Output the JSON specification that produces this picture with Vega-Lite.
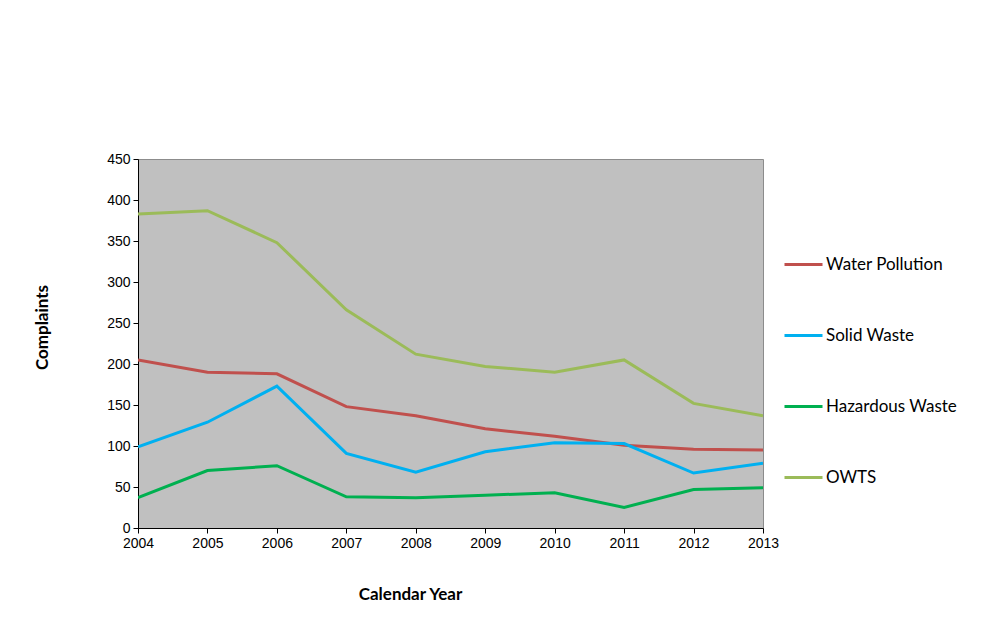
{
  "$schema": "https://vega.github.io/schema/vega-lite/v6.json",
  "width": 625,
  "height": 369,
  "autosize": {"type": "none"},
  "padding": {"left": 138, "top": 159, "right": 230, "bottom": 109},
  "background": "white",
  "data": {
    "values": [
      {"year": 2004, "series": "Water Pollution", "value": 205},
      {"year": 2005, "series": "Water Pollution", "value": 190},
      {"year": 2006, "series": "Water Pollution", "value": 188},
      {"year": 2007, "series": "Water Pollution", "value": 148},
      {"year": 2008, "series": "Water Pollution", "value": 137},
      {"year": 2009, "series": "Water Pollution", "value": 121},
      {"year": 2010, "series": "Water Pollution", "value": 112},
      {"year": 2011, "series": "Water Pollution", "value": 101},
      {"year": 2012, "series": "Water Pollution", "value": 96},
      {"year": 2013, "series": "Water Pollution", "value": 95},
      {"year": 2004, "series": "Solid Waste", "value": 99},
      {"year": 2005, "series": "Solid Waste", "value": 129},
      {"year": 2006, "series": "Solid Waste", "value": 173},
      {"year": 2007, "series": "Solid Waste", "value": 91},
      {"year": 2008, "series": "Solid Waste", "value": 68},
      {"year": 2009, "series": "Solid Waste", "value": 93},
      {"year": 2010, "series": "Solid Waste", "value": 104},
      {"year": 2011, "series": "Solid Waste", "value": 103},
      {"year": 2012, "series": "Solid Waste", "value": 67},
      {"year": 2013, "series": "Solid Waste", "value": 79},
      {"year": 2004, "series": "Hazardous Waste", "value": 37},
      {"year": 2005, "series": "Hazardous Waste", "value": 70},
      {"year": 2006, "series": "Hazardous Waste", "value": 76},
      {"year": 2007, "series": "Hazardous Waste", "value": 38},
      {"year": 2008, "series": "Hazardous Waste", "value": 37},
      {"year": 2009, "series": "Hazardous Waste", "value": 40},
      {"year": 2010, "series": "Hazardous Waste", "value": 43},
      {"year": 2011, "series": "Hazardous Waste", "value": 25},
      {"year": 2012, "series": "Hazardous Waste", "value": 47},
      {"year": 2013, "series": "Hazardous Waste", "value": 49},
      {"year": 2004, "series": "OWTS", "value": 383},
      {"year": 2005, "series": "OWTS", "value": 387},
      {"year": 2006, "series": "OWTS", "value": 348},
      {"year": 2007, "series": "OWTS", "value": 266},
      {"year": 2008, "series": "OWTS", "value": 212},
      {"year": 2009, "series": "OWTS", "value": 197},
      {"year": 2010, "series": "OWTS", "value": 190},
      {"year": 2011, "series": "OWTS", "value": 205},
      {"year": 2012, "series": "OWTS", "value": 152},
      {"year": 2013, "series": "OWTS", "value": 137}
    ]
  },
  "mark": {"type": "line", "strokeWidth": 3, "clip": true},
  "encoding": {
    "x": {
      "field": "year",
      "type": "quantitative",
      "scale": {"domain": [2004, 2013], "nice": false, "zero": false},
      "axis": {
        "values": [2004, 2005, 2006, 2007, 2008, 2009, 2010, 2011, 2012, 2013],
        "format": "d",
        "grid": false,
        "labelFlush": false,
        "title": "Calendar Year",
        "titleX": 272,
        "titleY": 66,
        "titleBaseline": "middle"
      }
    },
    "y": {
      "field": "value",
      "type": "quantitative",
      "scale": {"domain": [0, 450], "nice": false},
      "axis": {
        "values": [0, 50, 100, 150, 200, 250, 300, 350, 400, 450],
        "grid": false,
        "labelFlush": false,
        "title": "Complaints",
        "titleX": -96,
        "titleY": 168,
        "titleBaseline": "middle",
        "titleAlign": "center",
        "titleAngle": -90
      }
    },
    "color": {
      "field": "series",
      "type": "nominal",
      "scale": {
        "domain": ["Water Pollution", "Solid Waste", "Hazardous Waste", "OWTS"],
        "range": ["#C0504D", "#00B0F0", "#00B050", "#9BBB59"]
      },
      "legend": {
        "title": null,
        "orient": "none",
        "legendX": 645,
        "legendY": 85,
        "symbolType": "stroke",
        "symbolSize": 1444,
        "symbolStrokeWidth": 3,
        "labelOffset": 2,
        "rowPadding": 42,
        "labelFont": "Lato",
        "labelFontSize": 17,
        "labelColor": "#000000"
      }
    }
  },
  "config": {
    "view": {"fill": "#C0C0C0", "stroke": "#8c8c8c", "strokeWidth": 1},
    "axis": {
      "domainColor": "#000000",
      "domainWidth": 1,
      "tickColor": "#000000",
      "tickSize": 5,
      "labelFont": "Liberation Sans",
      "labelFontSize": 14,
      "labelColor": "#000000",
      "labelPadding": 3,
      "titleFont": "Lato",
      "titleFontSize": 17,
      "titleFontWeight": "bold",
      "titleColor": "#000000"
    }
  }
}
